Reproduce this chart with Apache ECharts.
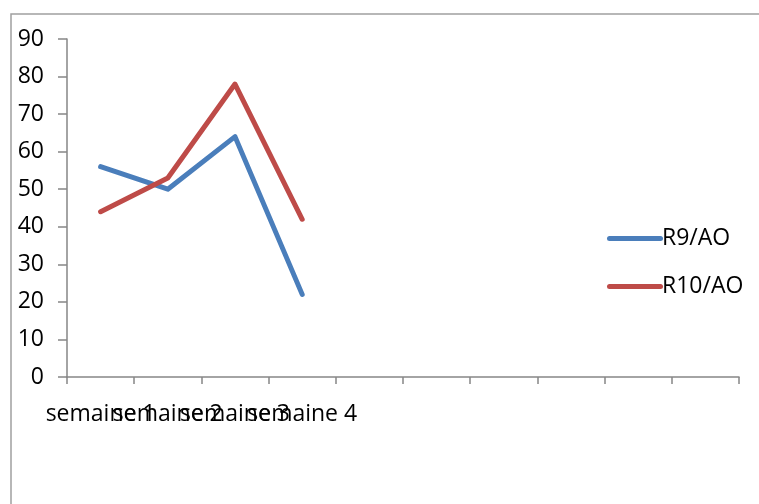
<!DOCTYPE html>
<html><head><meta charset="utf-8">
<script src="https://cdn.jsdelivr.net/npm/echarts@6/dist/echarts.min.js"></script>
<style>html,body{margin:0;padding:0;background:#fff}#c{width:759px;height:504px}</style>
</head><body><div id="c"></div>
<script>
const categories = ["semaine 1","semaine 2","semaine 3","semaine 4","","","","","",""];
const seriesNames = ["R9/AO","R10/AO"];
const r9 = [56, 50, 64, 22];
const r10 = [44, 53, 78, 42];
const yTicks = {min:0, max:90, interval:10};
const FONT = "Open Sans";
const chart = echarts.init(document.getElementById('c'), null, {renderer:'canvas'});
chart.setOption({
  animation:false,
  backgroundColor:'#fff',
  graphic:[{type:'rect', shape:{x:11,y:14,width:900,height:700}, style:{fill:'none',stroke:'#A0A0A0',lineWidth:1.5}, silent:true}],
  grid:{left:67,right:20,top:39,bottom:127,containLabel:false},
  legend:{orient:'vertical', left:602, top:222, itemWidth:56, itemHeight:5, itemGap:25,
    icon:'path://M2.5,0 L53.5,0 A2.5,2.5 0 0 1 53.5,5 L2.5,5 A2.5,2.5 0 0 1 2.5,0 Z',
    textStyle:{fontFamily:FONT,fontSize:23,color:'#000',padding:[0,0,0,-6]},
    data:seriesNames},
  xAxis:{type:'category', data:categories, boundaryGap:true,
    axisLine:{lineStyle:{color:'#868686',width:1.5}},
    axisTick:{show:true,length:7,interval:0,alignWithLabel:false,lineStyle:{color:'#868686',width:1.5}},
    axisLabel:{interval:0,margin:26,fontFamily:FONT,fontSize:23,color:'#000',overflow:'none',width:200},
    splitLine:{show:false}},
  yAxis:{type:'value', min:yTicks.min, max:yTicks.max, interval:yTicks.interval,
    axisLine:{show:true,lineStyle:{color:'#868686',width:1.5}},
    axisTick:{show:true,length:9,lineStyle:{color:'#868686',width:1.5}},
    axisLabel:{margin:23,fontFamily:FONT,fontSize:23,color:'#000'},
    splitLine:{show:false}},
  series:[
    {name:seriesNames[0],type:'line',data:r9,symbol:'none',lineStyle:{color:'#4A7EBB',width:5,cap:'round',join:'round'},itemStyle:{color:'#4A7EBB'}},
    {name:seriesNames[1],type:'line',data:r10,symbol:'none',lineStyle:{color:'#BE4B48',width:5,cap:'round',join:'round'},itemStyle:{color:'#BE4B48'}}
  ]
});
</script></body></html>
